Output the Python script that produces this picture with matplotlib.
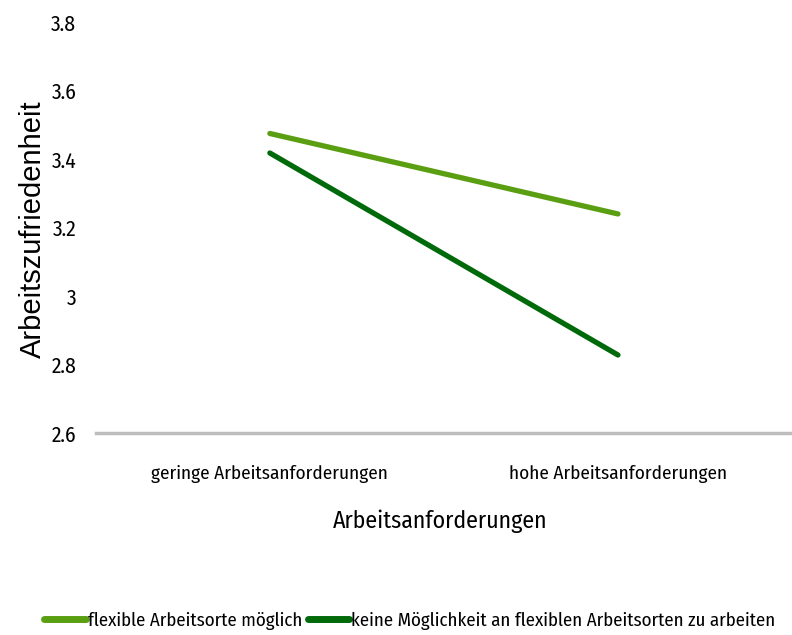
import matplotlib
matplotlib.use("Agg")
import matplotlib.pyplot as plt
from matplotlib.lines import Line2D

# Interaction plot: job satisfaction by job demands and workplace flexibility
categories = ["geringe Arbeitsanforderungen", "hohe Arbeitsanforderungen"]
flexible = [3.475, 3.24]
nicht_flexibel = [3.418, 2.828]
series_labels = ["flexible Arbeitsorte möglich",
                 "keine Möglichkeit an flexiblen Arbeitsorten zu arbeiten"]
yticks = [2.6, 2.8, 3.0, 3.2, 3.4, 3.6, 3.8]
ytick_labels = ["2.6", "2.8", "3", "3.2", "3.4", "3.6", "3.8"]

light_green = "#5a9e12"
dark_green = "#006a0a"
cond = ["Fira Sans Condensed", "DejaVu Sans"]

fig = plt.figure(figsize=(7.92, 6.35), dpi=100)
ax = fig.add_axes([0.121, 0.318, 0.879, 0.647])

x = list(range(len(categories)))
ax.plot(x, flexible, color=light_green, lw=3.8, solid_capstyle="round")
ax.plot(x, nicht_flexibel, color=dark_green, lw=3.8, solid_capstyle="round")

ax.set_xlim(-0.5, 1.5)
ax.set_ylim(2.6, 3.8)
ax.set_yticks(yticks)
ax.set_yticklabels(ytick_labels, family=cond, fontsize=15.5)
ax.tick_params(axis="y", length=0, pad=14)

ax.set_xticks(x)
ax.set_xticklabels(categories, family=cond, fontsize=13.8)
ax.tick_params(axis="x", length=0, pad=23)

for side in ["top", "right", "left"]:
    ax.spines[side].set_visible(False)
ax.spines["bottom"].set_color("#bdbdbd")
ax.spines["bottom"].set_linewidth(2.5)

fig.text(33 / 792, (635 - 229) / 635, "Arbeitszufriedenheit", rotation=90,
         ha="center", va="center", fontsize=21, family="Liberation Sans")
fig.text(440 / 792, (635 - 521) / 635, "Arbeitsanforderungen",
         ha="center", va="center", fontsize=17.2, family=cond)

handles = [Line2D([0], [0], color=light_green, lw=5, solid_capstyle="round"),
           Line2D([0], [0], color=dark_green, lw=5, solid_capstyle="round")]
fig.legend(handles, series_labels, loc="center",
           bbox_to_anchor=(410 / 792, (635 - 621) / 635),
           ncol=2, frameon=False, prop={"family": cond, "size": 13.6},
           handlelength=2.2, handletextpad=0.1, columnspacing=0.3,
           borderaxespad=0, borderpad=0)

fig.savefig("out.png", dpi=100)
